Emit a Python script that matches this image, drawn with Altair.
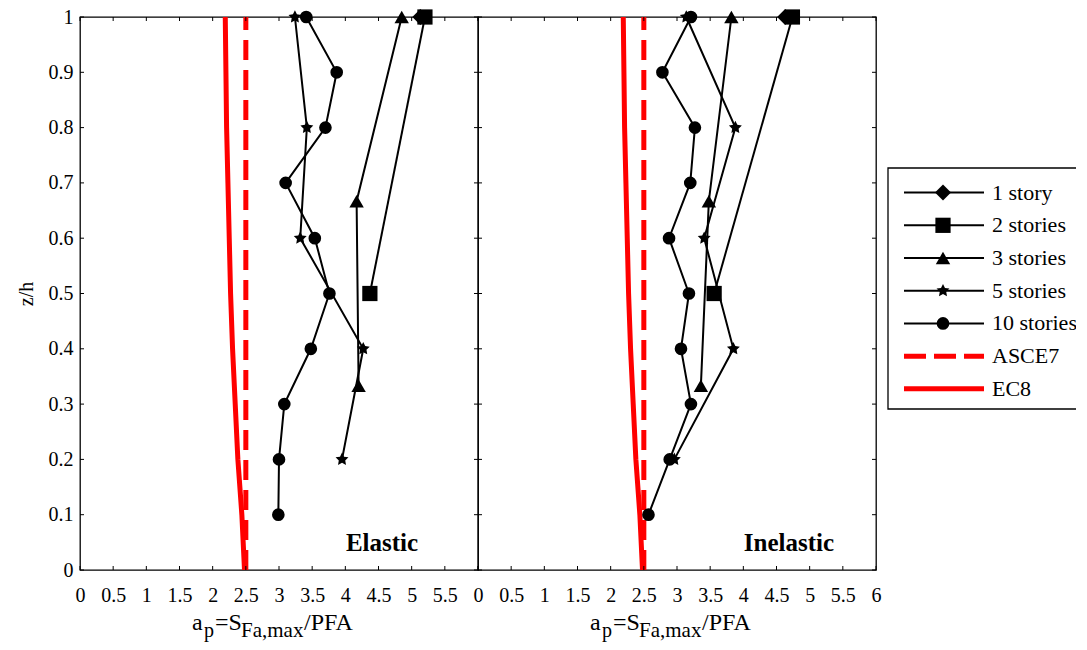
import math
import altair as alt
import pandas as pd

# ---------------- data ----------------
SERIES = ["1 story", "2 stories", "3 stories", "5 stories", "10 stories"]

Z1 = [1.0]
Z2 = [0.5, 1.0]
Z3 = [0.333, 0.667, 1.0]
Z5 = [0.2, 0.4, 0.6, 0.8, 1.0]
Z10 = [0.1, 0.2, 0.3, 0.4, 0.5, 0.6, 0.7, 0.8, 0.9, 1.0]

el_1 = [5.13]
el_2 = [4.37, 5.20]
el_3 = [4.20, 4.17, 4.85]
el_5 = [3.95, 4.27, 3.32, 3.42, 3.24]
el_10 = [2.99, 3.00, 3.08, 3.48, 3.76, 3.54, 3.10, 3.70, 3.87, 3.41]

in_1 = [4.63]
in_2 = [3.56, 4.74]
in_3 = [3.36, 3.48, 3.82]
in_5 = [2.96, 3.85, 3.41, 3.88, 3.14]
in_10 = [2.57, 2.89, 3.21, 3.06, 3.18, 2.88, 3.20, 3.27, 2.78, 3.21]

EC8_Z = [0.0, 0.1, 0.2, 0.3, 0.4, 0.5, 0.6, 0.7, 0.8, 0.9, 1.0]
EC8_X = [2.48, 2.44, 2.38, 2.34, 2.30, 2.27, 2.25, 2.23, 2.21, 2.20, 2.19]
ASCE_Z = [0.0, 1.0]
ASCE_X = [2.5, 2.5]

X_TICKS = [0, 0.5, 1, 1.5, 2, 2.5, 3, 3.5, 4, 4.5, 5, 5.5, 6]
X_LABELS_LEFT = [0, 0.5, 1, 1.5, 2, 2.5, 3, 3.5, 4, 4.5, 5, 5.5]
Y_TICKS = [0, 0.1, 0.2, 0.3, 0.4, 0.5, 0.6, 0.7, 0.8, 0.9, 1]

LEGEND_LABELS = SERIES + ["ASCE7", "EC8"]
LEGEND_ROW = [0, 1, 2, 3, 4, 5, 6]

# ---------------- style ----------------
W, H = 398, 553
FONT = "Liberation Serif"
TL = 4  # inward tick length


def star_path(inner=0.5):
    pts = []
    for k in range(10):
        a = -math.pi / 2 + k * math.pi / 5
        r = 1.0 if k % 2 == 0 else inner
        pts.append(f"{r * math.cos(a):.3f},{r * math.sin(a):.3f}")
    return "M" + "L".join(pts) + "Z"


SHAPES = ["diamond", "square", "triangle-up", star_path(), "circle"]
SIZES = [256, 160, 380, 440, 225]

shape_scale = alt.Scale(domain=SERIES, range=SHAPES)
size_scale = alt.Scale(domain=SERIES, range=SIZES)


def series_df(vals):
    rows = []
    for name, zs, xs in zip(SERIES, [Z1, Z2, Z3, Z5, Z10], vals):
        for z, x in zip(zs, xs):
            rows.append({"series": name, "z": z, "x": x})
    return pd.DataFrame(rows)


def panel(vals, label_vals, show_y, tag, tag_x):
    xscale = alt.Scale(domain=[0, 6], nice=False, zero=False)
    yscale = alt.Scale(domain=[0, 1], nice=False, zero=False)
    xaxis = alt.Axis(values=label_vals, format="~g", title=None, labelPadding=15,
                     labelFlush=False, labelOverlap=False)
    if show_y:
        yaxis = alt.Axis(values=Y_TICKS, format="~g", title="z/h", labelPadding=7,
                         titlePadding=12, titleFontSize=20, titleFont=FONT,
                         titleFontWeight="normal", titleColor="black",
                         labelFlush=False, labelOverlap=False)
    else:
        yaxis = None
    X = alt.X("x:Q", scale=xscale, axis=xaxis)
    Y = alt.Y("z:Q", scale=yscale, axis=yaxis)

    df = series_df(vals)
    ec8 = pd.DataFrame({"x": EC8_X, "z": EC8_Z})
    asce = pd.DataFrame({"x": ASCE_X, "z": ASCE_Z})
    xt = pd.DataFrame({"x": X_TICKS})
    yt = pd.DataFrame({"z": Y_TICKS})

    ec8_line = alt.Chart(ec8).mark_line(color="#ff0000", strokeWidth=5).encode(
        x=X, y=Y, order=alt.Order("z:Q"))
    asce_line = alt.Chart(asce).mark_line(color="#ff0000", strokeWidth=5,
                                          strokeDash=[20, 10]).encode(
        x=X, y=Y, order=alt.Order("z:Q"))
    lines = alt.Chart(df).mark_line(color="black", strokeWidth=2).encode(
        x=X, y=Y, detail="series:N", order=alt.Order("z:Q"))
    pts = alt.Chart(df).mark_point(filled=True, color="black", opacity=1).encode(
        x=X, y=Y,
        shape=alt.Shape("series:N", scale=shape_scale, legend=None),
        size=alt.Size("series:N", scale=size_scale, legend=None))

    tb = alt.Chart(xt).mark_rule(color="black", strokeWidth=1).encode(
        x=X, y=alt.value(H), y2=alt.value(H - TL))
    tt = alt.Chart(xt).mark_rule(color="black", strokeWidth=1).encode(
        x=X, y=alt.value(0), y2=alt.value(TL))
    tl = alt.Chart(yt).mark_rule(color="black", strokeWidth=1).encode(
        y=Y, x=alt.value(0), x2=alt.value(TL))
    tr = alt.Chart(yt).mark_rule(color="black", strokeWidth=1).encode(
        y=Y, x=alt.value(W - TL), x2=alt.value(W))

    ann = alt.Chart(pd.DataFrame({"t": [tag]})).mark_text(
        font=FONT, fontSize=25, fontWeight="bold", color="black",
        align="center", baseline="alphabetic").encode(
        text="t:N", x=alt.value(tag_x), y=alt.value(H - 19))

    # x-axis title a_p = S_Fa,max / PFA with subscripts
    def piece(txt, px, py, fs):
        return alt.Chart(pd.DataFrame({"t": [txt]})).mark_text(
            font=FONT, fontSize=fs, color="black", align="left",
            baseline="alphabetic").encode(text="t:N", x=alt.value(px), y=alt.value(py))

    main_y = H + 60
    sub_y = H + 67
    title = [
        piece("a", 112, main_y, 24),
        piece("p", 124, sub_y, 20),
        piece("=S", 135, main_y, 24),
        piece("Fa,max", 161, sub_y, 21),
        piece("/PFA", 224, main_y, 24),
    ]

    return alt.layer(ec8_line, asce_line, lines, pts, tb, tt, tl, tr, ann, *title).properties(
        width=W, height=H,
        view=alt.ViewBackground(stroke="black", strokeWidth=1.3))


left = panel([el_1, el_2, el_3, el_5, el_10], X_LABELS_LEFT, True, "Elastic", 302)
right = panel([in_1, in_2, in_3, in_5, in_10], X_TICKS, False, "Inelastic", 311)

# ---------------- legend (drawn as its own small chart) ----------------
leg_all = pd.DataFrame({"label": LEGEND_LABELS, "row": LEGEND_ROW})
leg_series = leg_all.iloc[:5]
leg_asce = leg_all.iloc[[5]]
leg_ec8 = leg_all.iloc[[6]]

LY = alt.Y("row:Q", scale=alt.Scale(domain=[-5.37, 11.54], reverse=True, nice=False,
                                    zero=False), axis=None)

box = alt.Chart(pd.DataFrame({"k": [0]})).mark_rect(
    fill="white", stroke="black", strokeWidth=1.3).encode(
    x=alt.value(12), x2=alt.value(208), y=alt.value(151), y2=alt.value(392))
leg_lines = alt.Chart(leg_series).mark_rule(color="black", strokeWidth=2).encode(
    y=LY, x=alt.value(28), x2=alt.value(108))
leg_pts = alt.Chart(leg_series).mark_point(filled=True, color="black", opacity=1).encode(
    y=LY, x=alt.value(67),
    shape=alt.Shape("label:N", scale=shape_scale, legend=None),
    size=alt.Size("label:N", scale=size_scale, legend=None))
leg_asce_line = alt.Chart(leg_asce).mark_rule(
    color="#ff0000", strokeWidth=5, strokeDash=[22, 8]).encode(
    y=LY, x=alt.value(28), x2=alt.value(108))
leg_ec8_line = alt.Chart(leg_ec8).mark_rule(
    color="#ff0000", strokeWidth=5).encode(
    y=LY, x=alt.value(28), x2=alt.value(108))
leg_text = alt.Chart(leg_all).mark_text(
    font=FONT, fontSize=22, color="black", align="left", baseline="middle",
    clip=True).encode(
    y=LY, x=alt.value(116), text="label:N")

legend = alt.layer(box, leg_lines, leg_asce_line, leg_ec8_line, leg_pts, leg_text).properties(
    width=208, height=H, view=alt.ViewBackground(stroke="transparent"))

chart = alt.hconcat(left, right, legend, spacing=0, bounds="flush").configure(
    padding={"left": 7, "top": -2, "right": -10, "bottom": 0},
    background="white",
).configure_axis(
    labelFont=FONT, labelFontSize=20, labelColor="black",
    domain=False, ticks=False, tickSize=0, grid=False,
).configure_view(stroke="black")

chart.save("out.html", embed_options={"renderer": "svg", "actions": False})
